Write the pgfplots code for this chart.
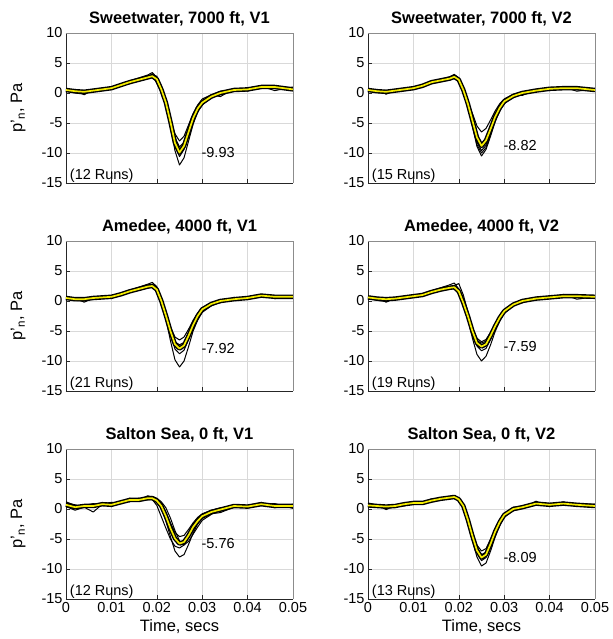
\documentclass[border=0pt]{standalone}
\usepackage{fontspec}
\setmainfont{Liberation Sans}
\usepackage{pgfplots}
\usepackage{pgfplotstable}
\pgfplotsset{compat=1.18}
\usepgfplotslibrary{groupplots}
\usetikzlibrary{calc}

% columns: time, four single runs (a deepest, b shallowest), m = mean
\pgfplotstableread{
t a b c d m
0 0.3 0.7 0.2 0.6 0.5
0.002 0.0 0.5 0.6 0.2 0.3
0.004 -0.2 0.4 -0.3 0.3 0.2
0.006 0.5 0.2 0.6 0.3 0.4
0.008 0.4 0.8 0.5 0.7 0.6
0.010 0.9 0.7 1.0 0.7 0.8
0.012 1.4 1.2 1.1 1.4 1.3
0.014 2.0 1.6 1.9 1.7 1.8
0.016 2.5 2.0 2.4 2.1 2.2
0.018 3.0 2.4 2.5 2.8 2.6
0.019 3.4 2.6 3.2 3.0 2.8
0.020 2.6 1.8 1.6 2.8 2.3
0.021 0.8 0.0 0.2 1.2 0.6
0.022 -1.8 -1.6 -2.0 -1.0 -1.6
0.023 -5.6 -4.2 -5.4 -4.2 -4.8
0.024 -9.6 -6.8 -8.8 -7.4 -8.3
0.025 -12.0 -8.0 -10.6 -9.0 -9.93
0.026 -10.8 -7.2 -9.4 -8.2 -8.8
0.027 -8.0 -5.3 -7.0 -6.2 -6.5
0.028 -5.2 -3.4 -4.5 -4.0 -4.2
0.029 -3.2 -2.0 -2.4 -2.8 -2.6
0.030 -2.0 -1.0 -1.8 -1.4 -1.6
0.032 -0.8 -0.3 -0.3 -0.8 -0.6
0.034 -0.2 0.3 -0.6 0.1 0.0
0.037 0.3 0.6 0.7 0.4 0.5
0.040 0.8 0.5 0.3 0.7 0.6
0.043 1.2 0.9 1.1 0.8 1.0
0.046 0.9 1.1 0.4 1.2 1.0
0.050 0.8 0.5 1.0 0.7 0.6
}\tabSWa

\pgfplotstableread{
t a b c d m
0 0.3 0.7 0.2 0.6 0.5
0.002 0.1 0.4 0.5 0.2 0.3
0.004 -0.1 0.4 -0.2 0.3 0.2
0.006 0.3 0.5 0.5 0.2 0.4
0.008 0.5 0.7 0.4 0.8 0.6
0.010 0.9 0.7 1.0 0.6 0.8
0.012 1.3 1.1 1.0 1.4 1.2
0.014 2.0 1.6 1.9 1.7 1.8
0.016 2.3 1.9 2.3 2.2 2.1
0.018 2.7 2.2 2.5 2.6 2.4
0.019 3.1 2.4 2.9 2.8 2.7
0.020 2.5 1.9 2.0 2.5 2.2
0.021 0.6 0.4 0.3 0.9 0.5
0.022 -2.2 -1.4 -2.0 -1.8 -1.8
0.023 -5.6 -3.4 -5.2 -5.2 -4.6
0.024 -8.9 -5.5 -8.2 -8.6 -7.4
0.025 -10.5 -6.5 -9.6 -10.0 -8.82
0.026 -9.4 -5.9 -8.7 -9.1 -7.9
0.027 -7.2 -4.5 -6.6 -6.9 -6.0
0.028 -4.8 -3.0 -4.4 -4.5 -4.0
0.029 -3.0 -1.8 -2.7 -2.9 -2.5
0.030 -1.8 -1.0 -1.6 -1.5 -1.4
0.032 -0.7 -0.2 -0.3 -0.6 -0.5
0.034 -0.2 0.2 -0.4 0.1 0.0
0.037 0.3 0.5 0.6 0.2 0.4
0.040 0.6 0.8 0.4 0.8 0.7
0.043 0.9 0.7 1.0 0.7 0.8
0.046 0.6 0.9 0.3 1.0 0.8
0.050 0.4 0.6 0.7 0.5 0.5
}\tabSWb

\pgfplotstableread{
t a b c d m
0 0.3 0.7 0.2 0.6 0.5
0.002 0.1 0.5 0.5 0.3 0.3
0.004 0.0 0.4 -0.2 0.4 0.3
0.006 0.4 0.6 0.5 0.3 0.5
0.008 0.6 0.8 0.4 0.7 0.6
0.010 0.8 0.7 0.9 0.6 0.7
0.012 1.3 1.0 1.0 1.2 1.1
0.014 1.8 1.5 1.7 1.6 1.6
0.016 2.3 1.8 2.0 2.1 2.0
0.018 2.8 2.2 2.5 2.4 2.4
0.019 3.1 2.3 2.8 2.5 2.5
0.020 2.4 1.6 2.0 1.7 1.9
0.021 0.2 0.0 0.0 -0.2 0.0
0.022 -3.0 -2.0 -2.6 -2.3 -2.4
0.023 -6.6 -4.3 -5.5 -4.8 -5.0
0.024 -9.8 -6.0 -8.0 -6.8 -7.2
0.025 -11.0 -6.5 -8.8 -7.3 -7.92
0.026 -10.0 -6.0 -8.2 -6.9 -7.4
0.027 -7.6 -4.7 -6.4 -5.4 -5.8
0.028 -5.0 -3.2 -4.4 -3.8 -4.0
0.029 -3.2 -2.0 -2.8 -2.3 -2.5
0.030 -1.9 -1.1 -1.8 -1.3 -1.4
0.032 -0.8 -0.3 -0.4 -0.5 -0.5
0.034 -0.2 0.2 -0.3 0.0 0.0
0.037 0.3 0.4 0.6 0.2 0.3
0.040 0.6 0.5 0.3 0.7 0.5
0.043 1.0 0.8 1.1 0.7 0.9
0.046 0.8 0.7 0.4 0.9 0.7
0.050 0.6 0.8 0.7 0.5 0.7
}\tabAMa

\pgfplotstableread{
t a b c d m
0 0.4 0.8 0.3 0.6 0.6
0.002 0.1 0.5 0.6 0.3 0.4
0.004 -0.1 0.4 -0.2 0.4 0.3
0.006 0.4 0.5 0.5 0.3 0.4
0.008 0.6 0.7 0.4 0.7 0.6
0.010 0.8 0.7 1.0 0.6 0.8
0.012 1.2 0.9 1.0 1.1 1.0
0.014 1.7 1.4 1.6 1.5 1.5
0.016 2.2 1.7 1.9 2.0 1.9
0.018 2.7 2.0 2.4 2.3 2.2
0.019 3.0 2.1 2.6 2.4 2.3
0.020 2.0 1.3 2.9 1.5 1.6
0.021 -0.3 -0.4 1.0 -0.4 -0.3
0.022 -3.0 -2.2 -1.8 -2.4 -2.5
0.023 -6.2 -4.4 -5.0 -4.8 -5.0
0.024 -8.9 -6.2 -7.5 -6.6 -7.0
0.025 -10.0 -6.8 -8.3 -7.0 -7.59
0.026 -9.2 -6.4 -7.9 -6.7 -7.2
0.027 -7.3 -5.2 -6.4 -5.5 -5.8
0.028 -5.1 -3.8 -4.6 -4.0 -4.2
0.029 -3.4 -2.6 -3.1 -2.7 -2.8
0.030 -2.1 -1.6 -2.0 -1.5 -1.7
0.032 -0.8 -0.5 -0.5 -0.6 -0.6
0.034 -0.1 0.1 -0.3 0.0 0.0
0.037 0.3 0.5 0.6 0.3 0.4
0.040 0.7 0.6 0.5 0.8 0.6
0.043 0.9 0.8 1.1 0.7 0.8
0.046 0.6 0.9 0.3 0.9 0.8
0.050 0.5 0.8 0.7 0.6 0.7
}\tabAMb

\pgfplotstableread{
t a b c d m
0 1.2 0.8 0.4 1.0 0.7
0.002 0.6 0.4 -0.2 0.7 0.3
0.004 0.5 0.6 0.3 0.3 0.5
0.006 0.7 0.9 -0.5 0.6 0.5
0.008 1.0 0.7 0.8 0.9 0.8
0.010 0.6 0.8 0.4 1.1 0.7
0.012 1.3 1.1 1.3 1.0 1.1
0.014 1.6 1.4 1.2 1.8 1.5
0.016 1.5 1.6 1.8 1.3 1.5
0.018 2.2 1.8 1.5 2.0 1.8
0.019 2.0 1.9 1.6 2.1 1.8
0.020 1.4 1.5 0.6 1.8 1.4
0.021 0.2 0.9 -1.3 1.2 0.5
0.022 -2.0 -0.5 -3.2 0.2 -1.2
0.023 -4.6 -2.3 -5.0 -1.5 -3.2
0.024 -7.0 -3.9 -6.2 -3.6 -4.9
0.025 -8.0 -4.6 -6.5 -5.3 -5.76
0.026 -7.6 -4.4 -6.0 -6.0 -5.5
0.027 -5.9 -3.4 -4.8 -5.4 -4.4
0.028 -4.0 -2.3 -3.5 -4.2 -3.0
0.029 -2.5 -1.4 -2.4 -3.0 -2.0
0.030 -1.5 -0.8 -1.6 -1.9 -1.2
0.032 -0.5 -0.2 -0.8 -0.9 -0.5
0.034 0.0 0.2 -0.6 0.0 -0.1
0.037 0.6 0.5 0.3 0.7 0.5
0.040 0.3 0.6 0.5 0.2 0.4
0.043 0.9 0.7 1.1 0.8 0.8
0.046 0.4 0.8 0.2 0.9 0.5
0.050 0.6 0.4 0.8 0.1 0.5
}\tabSSa

\pgfplotstableread{
t a b c d m
0 0.9 0.5 1.0 0.4 0.6
0.002 0.5 0.3 0.7 0.6 0.5
0.004 0.4 0.6 -0.1 0.5 0.4
0.006 0.7 0.5 0.6 0.3 0.5
0.008 0.9 0.7 0.5 1.0 0.8
0.010 1.1 0.8 1.2 0.9 1.0
0.012 1.0 1.2 1.1 0.8 1.0
0.014 1.5 1.3 1.7 1.4 1.4
0.016 1.7 1.6 1.5 1.9 1.7
0.018 2.1 1.8 2.0 1.9 1.9
0.019 2.2 1.9 2.1 2.0 2.0
0.020 1.7 1.5 1.6 1.8 1.6
0.021 0.4 0.6 0.3 0.8 0.5
0.022 -2.3 -1.4 -2.0 -1.3 -1.8
0.023 -5.3 -3.8 -4.8 -4.0 -4.5
0.024 -8.0 -6.0 -7.3 -6.4 -6.9
0.025 -9.5 -7.0 -8.6 -7.6 -8.09
0.026 -9.0 -6.6 -8.1 -7.2 -7.6
0.027 -7.0 -5.0 -6.3 -5.5 -5.8
0.028 -4.7 -3.2 -4.2 -3.6 -3.8
0.029 -2.8 -1.8 -2.5 -2.0 -2.2
0.030 -1.4 -0.7 -1.2 -0.8 -1.0
0.032 -0.2 0.2 -0.3 0.3 0.0
0.034 0.2 0.5 0.1 0.4 0.3
0.037 1.1 0.8 1.3 0.7 0.9
0.040 0.6 0.9 0.4 0.8 0.7
0.043 1.0 0.7 1.2 0.8 0.9
0.046 0.6 0.9 0.5 0.8 0.7
0.050 0.4 0.7 0.3 0.8 0.5
}\tabSSb

\definecolor{meanyellow}{rgb}{0.96,0.93,0.0}

% one panel: the bulk of the runs (thick black band round the mean),
% four single runs, the mean in yellow, then the two notes
\newcommand{\panel}[3]{%
  \addplot[band] table[x=t,y=m]{#1};
  \foreach \col in {a,b,c,d} {\addplot[run] table[x=t,y=\col]{#1};}
  \addplot[mean] table[x=t,y=m]{#1};
  \node[anchor=west,inner sep=1pt,font=\fontsize{14.5}{16}\selectfont] at (axis cs:0.0296,#2) {#2};
  \node[anchor=base west,inner sep=1pt,font=\fontsize{14.5}{16}\selectfont] at (axis cs:0.0006,-14.5) {(#3 Runs)};
  \draw[black!45,line width=0.6pt] (rel axis cs:0,1) -- (rel axis cs:1,1) -- (rel axis cs:1,0);
}

\begin{document}
\begin{tikzpicture}
\begin{groupplot}[
  group style={group size=2 by 3, horizontal sep=75pt, vertical sep=58pt,
    xticklabels at=edge bottom, xlabels at=edge bottom, ylabels at=edge left},
  scale only axis, width=227pt, height=150pt,
  xmin=0, xmax=0.05, ymin=-15, ymax=10,
  xtick={0,0.01,0.02,0.03,0.04,0.05},
  xticklabels={0,0.01,0.02,0.03,0.04,0.05},
  scaled x ticks=false,
  ytick={-15,-10,-5,0,5,10},
  yticklabels={-15,-10,-5,0,5,10},
  axis x line*=bottom, axis y line*=left,
  axis line style={black!85,line width=0.6pt,-},
  tick align=inside, major tick length=4pt,
  tick style={black!85,line width=0.6pt},
  grid=major, grid style={black!15,line width=0.6pt},
  tick label style={font=\fontsize{14.5}{16}\selectfont},
  title style={font=\bfseries\fontsize{16.5}{18}\selectfont, yshift=-3pt},
  label style={font=\fontsize{16.5}{18}\selectfont},
  ylabel style={yshift=9pt},
  xlabel={Time, secs},
  ylabel={p'\textsubscript{n}, Pa},
  clip=false,
  band/.style={black, line width=4.5pt, line join=round},
  run/.style={black, line width=1.0pt, line join=round},
  mean/.style={meanyellow, line width=1.7pt, line join=round},
]
\nextgroupplot[title={Sweetwater, 7000 ft, V1}]
\panel{\tabSWa}{-9.93}{12}
\nextgroupplot[title={Sweetwater, 7000 ft, V2}]
\panel{\tabSWb}{-8.82}{15}
\nextgroupplot[title={Amedee, 4000 ft, V1}]
\panel{\tabAMa}{-7.92}{21}
\nextgroupplot[title={Amedee, 4000 ft, V2}]
\panel{\tabAMb}{-7.59}{19}
\nextgroupplot[title={Salton Sea, 0 ft, V1}]
\panel{\tabSSa}{-5.76}{12}
\nextgroupplot[title={Salton Sea, 0 ft, V2}]
\panel{\tabSSb}{-8.09}{13}
\end{groupplot}
\path[use as bounding box] ($(group c1r1.north west)+(-66pt,33pt)$) rectangle ++(611pt,-639pt);
\end{tikzpicture}
\end{document}
